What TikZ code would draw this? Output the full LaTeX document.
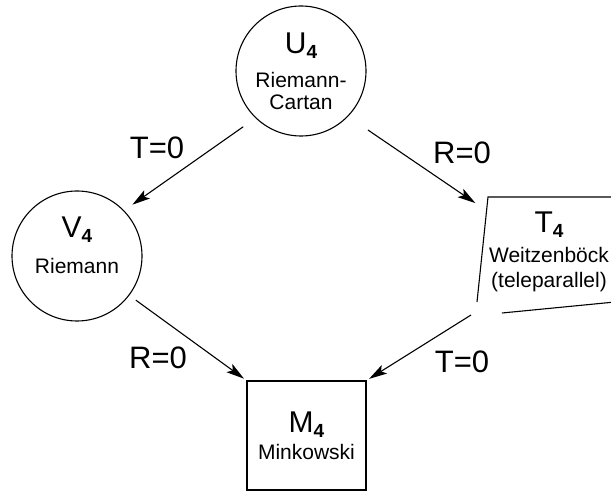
\documentclass[tikz,border=0pt]{standalone}
\usepackage{fontspec}
\setmainfont{Liberation Sans}
\usetikzlibrary{arrows.meta}
\newcommand{\idx}[1]{\raisebox{-5pt}{\fontsize{19}{19}\selectfont\bfseries #1}}
\newcommand{\bigsym}[1]{{\fontsize{30}{30}\selectfont #1}}

\begin{document}
\begin{tikzpicture}[
    x=1pt, y=-1pt,
    line width=1.1pt,
    every node/.style={font=\fontsize{21}{22}\selectfont},
    space/.style={
        draw,
        circle,
        minimum size=130pt,
        inner sep=0pt,
        align=center
    },
    flat/.style={
        draw,
        rectangle,
        minimum width=119pt,
        minimum height=109pt,
        inner sep=0pt,
        align=center
    },
    cond/.style={font=\fontsize{31}{32}\selectfont},
    arr/.style={-{Stealth[length=18pt,width=10pt,inset=4pt]}}
]
\useasboundingbox (0,0) rectangle (611,497);

% spaces
\node[space] (u4) at (301,71)
{\bigsym{U\idx{4}}\\[12pt]Riemann-\\Cartan};

\node[space, text depth=21pt] (v4) at (77,256)
{\bigsym{V\idx{4}}\\[14pt]Riemann};

\node[flat] (m4) at (306.5,435.5)
{\bigsym{M\idx{4}}\\[5pt]Minkowski};

% teleparallel frame
\coordinate (tl) at (488,197);
\coordinate (tr) at (615,197);
\coordinate (bl) at (477,302);
\coordinate (bs) at (502,313);
\coordinate (be) at (615,302);
\coordinate (tin) at (487,211);
\coordinate (tout) at (471,315);
\draw (tr) -- (tl) -- (bl);
\draw (bs) -- (be);
\node[align=center] (t4) at (549,252)
{\bigsym{T\idx{4}}\\[8pt]Weitzenböck\\[3pt](teleparallel)};

% conditions
\node[cond] (lt1) at (157,148) {T=0};
\node[cond] (lr1) at (462,153) {R=0};
\node[cond] (lr2) at (158,358) {R=0};
\node[cond] (lt2) at (462,362) {T=0};

% reductions
\draw[arr, shorten <=15pt, shorten >=10pt] (u4.226) -- (v4.44);
\draw[arr, shorten <=24pt, shorten >=14pt] (u4.316) -- (tin);
\draw[arr, shorten <=8pt, shorten >=3pt] (v4.323) -- (m4.north west);
\draw[arr, shorten >=3pt] (tout) -- (m4.north east);
\end{tikzpicture}
\end{document}
